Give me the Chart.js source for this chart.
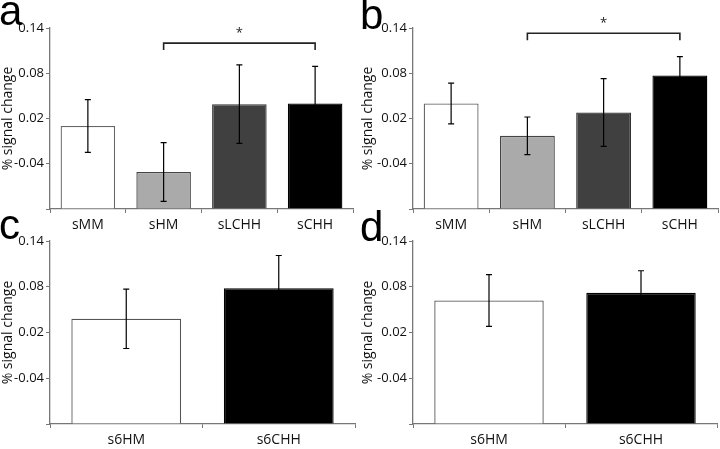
<!DOCTYPE html>
<html>
<head>
<meta charset="utf-8">
<script src="https://cdn.jsdelivr.net/npm/chart.js@4.4.0/dist/chart.umd.min.js"></script>
<style>
  body { margin: 0; background: #fff; width: 720px; height: 449px; position: relative; overflow: hidden; }
  .box { position: absolute; }
  .letter { position: absolute; font-family: "Liberation Sans", Arial, sans-serif; font-size: 42px; line-height: 1; color: #000; }
</style>
</head>
<body>
<div class="box" style="left:0;top:0;width:360px;height:232px"><canvas id="chartA"></canvas></div>
<div class="box" style="left:360px;top:0;width:360px;height:232px"><canvas id="chartB"></canvas></div>
<div class="box" style="left:0;top:225px;width:360px;height:224px"><canvas id="chartC"></canvas></div>
<div class="box" style="left:360px;top:225px;width:360px;height:224px"><canvas id="chartD"></canvas></div>
<div class="letter" style="left:-1px;top:-10px">a</div>
<div class="letter" style="left:360px;top:-6px">b</div>
<div class="letter" style="left:-1px;top:204px">c</div>
<div class="letter" style="left:360px;top:206px">d</div>
<script>
// categories
const labelsTop = ['sMM', 'sHM', 'sLCHH', 'sCHH'];
const labelsBottom = ['s6HM', 's6CHH'];

// mean % signal change and error (half length of the error bar)
const valuesA = [0.010, -0.051, 0.039, 0.040];
const errorsA = [0.035, 0.039, 0.052, 0.049];
const valuesB = [0.040, -0.003, 0.028, 0.077];
const errorsB = [0.027, 0.025, 0.045, 0.025];
const valuesC = [0.038, 0.078];
const errorsC = [0.039, 0.043];
const valuesD = [0.062, 0.072];
const errorsD = [0.034, 0.029];

const colorsTop = ['#ffffff', '#aaaaaa', '#404040', '#000000'];
const bordersTop = ['#666666', '#444444', '#333333', '#000000'];
const colorsBottom = ['#ffffff', '#000000'];
const bordersBottom = ['#555555', '#000000'];

// y axis
const yMin = -0.1;
const yMax = 0.14;
const yTicks = [-0.1, -0.04, 0.02, 0.08, 0.14];

// significance brackets: from category index, to category index, height
const bracketA = { from: 1, to: 3, y: 0.12, text: '*' };
const bracketB = { from: 1, to: 3, y: 0.133, text: '*' };

const FONT = '"Open Sans", sans-serif';
const AXIS = '#777777';

const errorBars = {
  id: 'errorBars',
  afterDatasetsDraw(chart, args, opts) {
    const ctx = chart.ctx;
    const meta = chart.getDatasetMeta(0);
    const ys = chart.scales.y;
    ctx.save();
    ctx.strokeStyle = '#000';
    ctx.lineWidth = 1.2;
    meta.data.forEach((bar, i) => {
      const v = opts.values[i], e = opts.errors[i];
      const top = ys.getPixelForValue(v + e);
      const bot = ys.getPixelForValue(v - e);
      ctx.beginPath();
      ctx.moveTo(bar.x, top); ctx.lineTo(bar.x, bot);
      ctx.moveTo(bar.x - 3, top); ctx.lineTo(bar.x + 3, top);
      ctx.moveTo(bar.x - 3, bot); ctx.lineTo(bar.x + 3, bot);
      ctx.stroke();
    });
    const br = opts.bracket;
    if (br) {
      const x1 = meta.data[br.from].x, x2 = meta.data[br.to].x;
      const y = ys.getPixelForValue(br.y);
      ctx.strokeStyle = '#222';
      ctx.lineWidth = 1.6;
      ctx.beginPath();
      ctx.moveTo(x1, y + 7); ctx.lineTo(x1, y); ctx.lineTo(x2, y); ctx.lineTo(x2, y + 7);
      ctx.stroke();
      ctx.fillStyle = '#222';
      ctx.font = '13px ' + FONT;
      ctx.textAlign = 'center';
      ctx.textBaseline = 'middle';
      ctx.fillText(br.text, (x1 + x2) / 2, y - 10);
    }
    ctx.restore();
  }
};

function makeChart(id, labels, values, errors, colors, borders, bracket, yWidth, xHeight, pad) {
  new Chart(document.getElementById(id), {
    type: 'bar',
    data: {
      labels: labels,
      datasets: [{
        data: values,
        base: yMin,
        backgroundColor: colors,
        borderColor: borders,
        borderWidth: 1.3,
        borderSkipped: 'bottom',
        categoryPercentage: 1,
        barPercentage: 0.72
      }]
    },
    options: {
      responsive: true,
      maintainAspectRatio: false,
      animation: false,
      layout: { padding: pad },
      plugins: {
        legend: { display: false },
        tooltip: { enabled: false },
        errorBars: { values: values, errors: errors, bracket: bracket }
      },
      scales: {
        x: {
          grid: { display: true, offset: true, drawOnChartArea: false, tickLength: 4, color: AXIS },
          border: { color: AXIS, width: 1.3 },
          ticks: { color: '#111', font: { family: FONT, size: 14 }, padding: 4 },
          afterFit(s) { s.height = xHeight; }
        },
        y: {
          min: yMin,
          max: yMax,
          afterBuildTicks(s) { s.ticks = yTicks.map(v => ({ value: v })); },
          grid: { display: true, drawOnChartArea: false, tickLength: 4, color: AXIS },
          border: { color: AXIS, width: 1.3 },
          ticks: {
            color: '#111',
            font: { family: FONT, size: 13 },
            padding: 2,
            callback: v => (v === yMin ? '' : String(v))
          },
          title: {
            display: true,
            text: '% signal change',
            color: '#111',
            font: { family: FONT, size: 14 },
            padding: { top: 0, bottom: 0 }
          },
          afterFit(s) { s.width = yWidth; }
        }
      }
    },
    plugins: [errorBars]
  });
}

makeChart('chartA', labelsTop, valuesA, errorsA, colorsTop, bordersTop, bracketA, 50, 23, { top: 28, right: 7, left: 0, bottom: 0 });
makeChart('chartB', labelsTop, valuesB, errorsB, colorsTop, bordersTop, bracketB, 53, 23, { top: 28, right: 2, left: 0, bottom: 0 });
makeChart('chartC', labelsBottom, valuesC, errorsC, colorsBottom, bordersBottom, null, 50, 25, { top: 16, right: 5, left: 0, bottom: 0 });
makeChart('chartD', labelsBottom, valuesD, errorsD, colorsBottom, bordersBottom, null, 53, 25, { top: 16, right: 3, left: 0, bottom: 0 });
</script>
</body>
</html>
